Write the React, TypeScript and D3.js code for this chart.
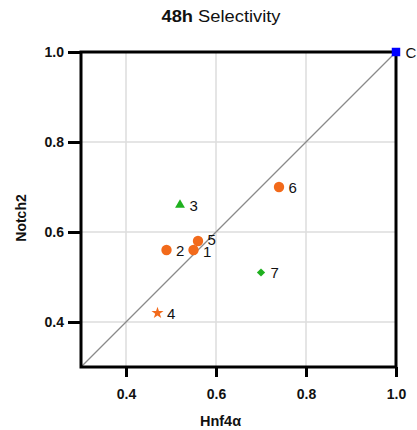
import React, { useRef, useEffect } from "react";
import * as d3 from "d3";

const labels = ["C", "1", "2", "3", "4", "5", "6", "7"];
const hnf4a = [1.0, 0.55, 0.49, 0.52, 0.47, 0.56, 0.74, 0.7];
const notch2 = [1.0, 0.56, 0.56, 0.66, 0.42, 0.58, 0.7, 0.51];
const shapes = ["square", "circle", "circle", "triangle", "star", "circle", "circle", "diamond"];
const colors = ["#0000ff", "#f26a1b", "#f26a1b", "#1fb01f", "#f26a1b", "#f26a1b", "#f26a1b", "#1fb01f"];
const ticks = [0.4, 0.6, 0.8, 1.0];

const symbolFor: Record<string, any> = {
  square: d3.symbolSquare,
  circle: d3.symbolCircle,
  triangle: d3.symbolTriangle,
  star: d3.symbolStar,
  diamond: d3.symbolSquare,
};
const sizeFor: Record<string, number> = {
  square: 72,
  circle: 85,
  triangle: 42,
  star: 45,
  diamond: 34,
};

const App = () => {
  const ref = useRef<SVGSVGElement>(null);
  const w = 417,
    h = 430,
    margin = { top: 52, right: 21, bottom: 63, left: 81 };

  useEffect(() => {
    const svg = d3.select(ref.current);
    svg.selectAll("*").remove();
    const font = "'Liberation Sans', Arial, sans-serif";

    const x = d3.scaleLinear().domain([0.3, 1.0]).range([margin.left, w - margin.right]);
    const y = d3.scaleLinear().domain([0.3, 1.0]).range([h - margin.bottom, margin.top]);

    // grid
    const grid = svg.append("g").attr("stroke", "#dcdcdc").attr("stroke-width", 1.5);
    ticks.slice(0, 3).forEach((t) => {
      grid.append("line").attr("x1", x(t)).attr("x2", x(t)).attr("y1", y(0.3)).attr("y2", y(1));
      grid.append("line").attr("y1", y(t)).attr("y2", y(t)).attr("x1", x(0.3)).attr("x2", x(1));
    });

    // diagonal
    svg
      .append("line")
      .attr("x1", x(0.3))
      .attr("y1", y(0.3))
      .attr("x2", x(1))
      .attr("y2", y(1))
      .attr("stroke", "#8a8a8a")
      .attr("stroke-width", 1.3);

    // frame
    svg
      .append("rect")
      .attr("x", x(0.3))
      .attr("y", y(1))
      .attr("width", x(1) - x(0.3))
      .attr("height", y(0.3) - y(1))
      .attr("fill", "none")
      .attr("stroke", "#000")
      .attr("stroke-width", 3);

    const xAxis = (g: any) =>
      g
        .attr("transform", `translate(0,${h - margin.bottom})`)
        .call(d3.axisBottom(x).tickValues(ticks).tickSize(10).tickPadding(12).tickFormat(d3.format(".1f")))
        .call((g: any) => g.select(".domain").remove());
    const yAxis = (g: any) =>
      g
        .attr("transform", `translate(${margin.left},0)`)
        .call(d3.axisLeft(y).tickValues(ticks).tickSize(13).tickPadding(4).tickFormat(d3.format(".1f")))
        .call((g: any) => g.select(".domain").remove());

    [xAxis, yAxis].forEach((ax) => {
      const g = svg.append("g").call(ax);
      g.selectAll(".tick line").attr("stroke", "#000").attr("stroke-width", 3);
      g.selectAll(".tick text")
        .attr("font-family", font)
        .attr("font-size", 14)
        .attr("font-weight", "bold")
        .attr("fill", "#111");
    });

    // points (labels 5 and 1 sit close together, nudge them apart a little)
    const nudge: Record<string, number> = { "5": -2, "1": 1.5 };
    const pts = svg.append("g");
    labels.forEach((lab, i) => {
      const rot = shapes[i] === "diamond" ? " rotate(45)" : "";
      pts
        .append("path")
        .attr("d", d3.symbol(symbolFor[shapes[i]], sizeFor[shapes[i]])())
        .attr("transform", `translate(${x(hnf4a[i])},${y(notch2[i])})${rot}`)
        .attr("fill", colors[i]);
      pts
        .append("text")
        .attr("x", x(hnf4a[i]) + 9.5)
        .attr("y", y(notch2[i]) + 5.5 + (nudge[lab] || 0))
        .attr("font-family", font)
        .attr("font-size", 15)
        .attr("fill", "#111")
        .text(lab);
    });

    // titles
    const title = svg
      .append("text")
      .attr("x", 221)
      .attr("y", 22)
      .attr("text-anchor", "middle")
      .attr("font-family", font)
      .attr("font-size", 16)
      .attr("textLength", 119)
      .attr("lengthAdjust", "spacingAndGlyphs")
      .attr("fill", "#111");
    title.append("tspan").attr("font-weight", "bold").text("48h");
    title.append("tspan").text(" Selectivity");

    svg
      .append("text")
      .attr("x", 220.5)
      .attr("y", 426)
      .attr("text-anchor", "middle")
      .attr("font-family", font)
      .attr("font-size", 14.5)
      .attr("font-weight", "bold")
      .attr("fill", "#111")
      .text("Hnf4α");

    svg
      .append("text")
      .attr("transform", `translate(26,218) rotate(-90)`)
      .attr("text-anchor", "middle")
      .attr("font-family", font)
      .attr("font-size", 14)
      .attr("font-weight", "bold")
      .attr("fill", "#111")
      .text("Notch2");
  }, []);

  return (
    <svg
      ref={ref}
      width={w}
      height={h}
      style={{ position: "absolute", left: 0, top: 0, background: "#fff" }}
    ></svg>
  );
};

export default App;
